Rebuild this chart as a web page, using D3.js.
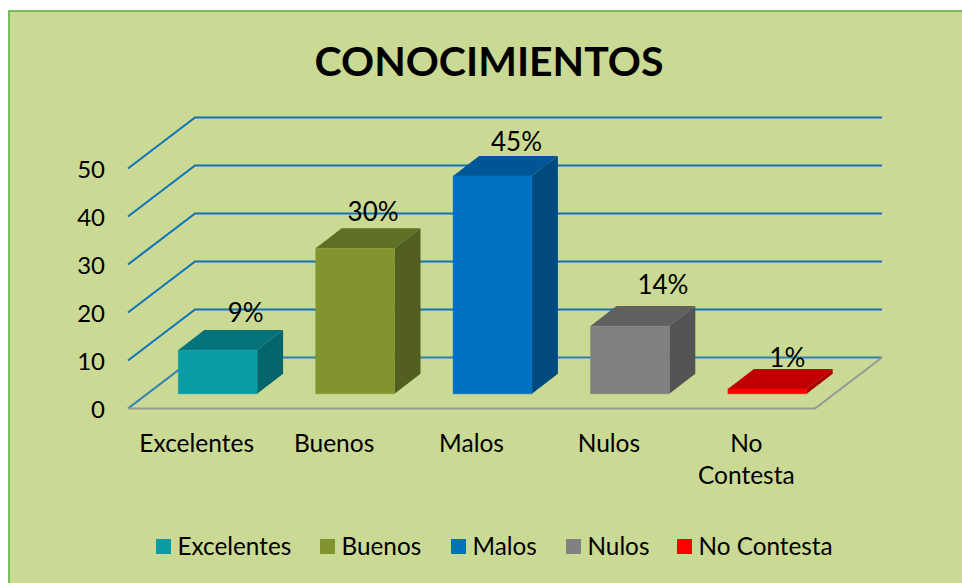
<!DOCTYPE html>
<html>
<head>
<meta charset="utf-8">
<script src="https://cdn.jsdelivr.net/npm/d3@7"></script>
<style>
  html, body { margin: 0; padding: 0; background: #fff; overflow: hidden; }
  svg { display: block; }
  text { font-family: Lato, "Open Sans", sans-serif; fill: #000; }
</style>
</head>
<body>
<div id="chart"></div>
<script>
const categories = ['Excelentes', 'Buenos', 'Malos', 'Nulos', 'No Contesta']
const values = [9.1, 30.3, 45.4, 14.1, 1]
const valueLabels = ['9%', '30%', '45%', '14%', '1%']
const yTicks = [0, 10, 20, 30, 40, 50]
const axisLabels = [['Excelentes'], ['Buenos'], ['Malos'], ['Nulos'], ['No', 'Contesta']]
const frontColors = ['#0a9ca5', '#81942f', '#0070c0', '#808080', '#ff0000']
const topColors = ['#04737b', '#606f26', '#005596', '#606060', '#c00000']
const sideColors = ['#04666c', '#525f20', '#004a80', '#545454', '#a80000']

// hand placed bits, the original labels were nudged around
const legendX = [156, 320, 451, 566, 677]
const labelNudgeX = [1, -9, -3, 6, -7]
const labelNudgeY = [-1, 0, 2, -5, 5]

var width = 962
var height = 583

// floor depth of the 3d box, back wall sits this far up and right
var depthX = 67
var depthY = 51
// bars stand in the middle of the floor and are shallower than it
var barShiftX = 21
var barShiftY = 14.7
var barDepthX = 26
var barDepthY = 20
var barWidth = 78.8

var x = d3.scaleBand().domain(categories).range([128, 815])
var y = d3.scaleLinear().domain([0, 50]).range([408.5, 168.5])

var svg = d3.select('#chart').append('svg')
  .attr('width', width)
  .attr('height', height)

// background panel, runs off the right and bottom of the picture
svg.append('rect')
  .attr('x', 9)
  .attr('y', 11)
  .attr('width', 990)
  .attr('height', 620)
  .attr('fill', '#cada94')
  .attr('stroke', '#5cb141')
  .attr('stroke-width', 1.6)

svg.append('text')
  .attr('x', 489)
  .attr('y', 76)
  .attr('text-anchor', 'middle')
  .attr('font-size', 41)
  .attr('font-weight', 700)
  .text('CONOCIMIENTOS')

// gridlines: side wall + back wall
var grid = svg.append('g')
yTicks.forEach(t => {
  grid.append('path')
    .attr('d', d3.line()([
      [x.range()[0], y(t)],
      [x.range()[0] + depthX, y(t) - depthY],
      [x.range()[1] + depthX, y(t) - depthY]
    ]))
    .attr('fill', 'none')
    .attr('stroke', t === 0 ? '#2f7fb5' : '#1273b8')
    .attr('stroke-width', 2.1)
})

// floor edge
svg.append('path')
  .attr('d', d3.line()([
    [x.range()[0], y(0)],
    [x.range()[1], y(0)],
    [x.range()[1] + depthX, y(0) - depthY]
  ]))
  .attr('fill', 'none')
  .attr('stroke', '#979797')
  .attr('stroke-width', 2)

// y axis labels
svg.append('g').selectAll('text')
  .data(yTicks)
  .enter().append('text')
  .attr('x', 105)
  .attr('y', d => y(d) + 1)
  .attr('dy', '.35em')
  .attr('text-anchor', 'end')
  .attr('font-size', 24)
  .text(d => d)

// bars
var bars = svg.append('g').selectAll('g')
  .data(categories)
  .enter().append('g')

var barX = d => x(d) + x.bandwidth() / 2 - barWidth / 2 + barShiftX
var barBase = y(0) - barShiftY
var barTop = (d, i) => y(values[i]) - barShiftY

bars.append('path')
  .attr('d', (d, i) => d3.line()([
    [barX(d), barTop(d, i)],
    [barX(d) + barDepthX, barTop(d, i) - barDepthY],
    [barX(d) + barWidth + barDepthX, barTop(d, i) - barDepthY],
    [barX(d) + barWidth, barTop(d, i)]
  ]) + 'Z')
  .attr('fill', (d, i) => topColors[i])

bars.append('path')
  .attr('d', (d, i) => d3.line()([
    [barX(d) + barWidth, barTop(d, i)],
    [barX(d) + barWidth + barDepthX, barTop(d, i) - barDepthY],
    [barX(d) + barWidth + barDepthX, barBase - barDepthY],
    [barX(d) + barWidth, barBase]
  ]) + 'Z')
  .attr('fill', (d, i) => sideColors[i])

bars.append('rect')
  .attr('x', d => barX(d))
  .attr('y', (d, i) => barTop(d, i))
  .attr('width', barWidth)
  .attr('height', (d, i) => barBase - barTop(d, i))
  .attr('fill', (d, i) => frontColors[i])
  .attr('stroke', (d, i) => frontColors[i])
  .attr('stroke-opacity', 0.45)

// value labels, drawn after all the bars
svg.append('g').selectAll('text')
  .data(categories)
  .enter().append('text')
  .attr('x', (d, i) => barX(d) + barWidth / 2 + 27 + labelNudgeX[i])
  .attr('y', (d, i) => barTop(d, i) - 27 + labelNudgeY[i])
  .attr('text-anchor', 'middle')
  .attr('font-size', 26)
  .text((d, i) => valueLabels[i])

// category labels
var catLabels = svg.append('g').selectAll('text')
  .data(categories)
  .enter().append('text')
  .attr('x', d => x(d) + x.bandwidth() / 2)
  .attr('y', 452)
  .attr('text-anchor', 'middle')
  .attr('font-size', 24.5)

catLabels.selectAll('tspan')
  .data((d, i) => axisLabels[i])
  .enter().append('tspan')
  .attr('x', function () { return d3.select(this.parentNode).attr('x') })
  .attr('dy', (d, i) => i ? 32 : 0)
  .text(d => d)

// legend
var legend = svg.append('g').selectAll('g')
  .data(categories)
  .enter().append('g')
  .attr('transform', (d, i) => 'translate(' + legendX[i] + ',539)')

legend.append('rect')
  .attr('width', 15)
  .attr('height', 15)
  .attr('fill', (d, i) => frontColors[i])

legend.append('text')
  .attr('x', 21.5)
  .attr('y', 16)
  .attr('font-size', 24.3)
  .text(d => d)
</script>
</body>
</html>
